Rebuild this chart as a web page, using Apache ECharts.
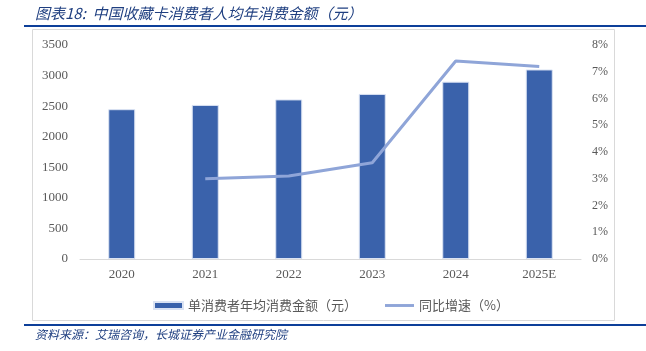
<!DOCTYPE html>
<html>
<head>
<meta charset="utf-8">
<script src="https://cdn.jsdelivr.net/npm/echarts@6/dist/echarts.min.js"></script>
<style>
  html, body { margin: 0; padding: 0; background: #fff; }
  #mainChart { width: 646px; height: 351px; }
</style>
</head>
<body>
<div id="mainChart"></div>
<script>
var years = ["2020", "2021", "2022", "2023", "2024", "2025E"];
var spendPerPerson = [2450, 2520, 2610, 2700, 2900, 3100];
var yoyGrowth = [null, 3.0, 3.1, 3.6, 7.4, 7.2];
var leftTicks = { min: 0, max: 3500, interval: 500 };
var rightTicks = { min: 0, max: 8, interval: 1 };

var chart = echarts.init(document.getElementById("mainChart"));
var labelColor = "#595959";
var serif = "'Liberation Serif', 'DejaVu Serif', serif";

var option = {
  animation: false,
  graphic: [
    // 标题下的蓝线
    { type: "rect", shape: { x: 24, y: 25, width: 622, height: 2 }, style: { fill: "#0d3f99" } },
    // 灰色边框
    { type: "rect", shape: { x: 32.5, y: 29.5, width: 582, height: 291 }, style: { fill: "none", stroke: "#d9d9d9", lineWidth: 1 } },
    // 底部蓝线
    { type: "rect", shape: { x: 24, y: 324, width: 622, height: 2 }, style: { fill: "#0d3f99" } },
    {
      type: "text", left: 35, top: 6,
      style: {
        text: "图表18:  中国收藏卡消费者人均年消费金额（元）",
        fill: "#1f3f80", font: "italic 15px 'Noto Sans CJK SC'"
      }
    },
    {
      type: "text", left: 35, top: 328,
      style: {
        text: "资料来源：艾瑞咨询，长城证券产业金融研究院",
        fill: "#1f3f80", font: "italic 12px 'Noto Sans CJK SC'"
      }
    }
  ],
  grid: { left: 80, right: 65, top: 45, bottom: 92 },
  legend: {
    left: 148, top: 294,
    itemGap: 28,
    itemWidth: 29, itemHeight: 7,
    textStyle: { color: labelColor, fontSize: 13, fontFamily: "'Noto Sans CJK SC'" },
    data: [
      { name: "单消费者年均消费金额（元）", icon: "rect" },
      // 细线图例：上下留空，只画中间一条
      { name: "同比增速（%）", icon: "path://M0,0M0,2H30V5H0ZM30,7" }
    ]
  },
  xAxis: {
    type: "category",
    data: years,
    axisLine: { lineStyle: { color: "#d9d9d9" } },
    axisTick: { show: false },
    axisLabel: { color: labelColor, fontSize: 13, fontFamily: serif, margin: 9 }
  },
  yAxis: [
    {
      type: "value",
      min: leftTicks.min, max: leftTicks.max, interval: leftTicks.interval,
      axisLine: { show: false },
      axisTick: { show: false },
      splitLine: { show: false },
      axisLabel: { color: labelColor, fontSize: 13, fontFamily: serif, margin: 12, formatter: function (v) { return String(v); } }
    },
    {
      type: "value",
      min: rightTicks.min, max: rightTicks.max, interval: rightTicks.interval,
      axisLine: { show: false },
      axisTick: { show: false },
      splitLine: { show: false },
      axisLabel: { color: labelColor, fontSize: 12, fontFamily: serif, margin: 11, formatter: "{value}%" }
    }
  ],
  series: [
    {
      name: "单消费者年均消费金额（元）",
      type: "bar",
      barWidth: 27,
      itemStyle: { color: "#3a62ab", borderColor: "#dbe3f3", borderWidth: 1 },
      data: spendPerPerson
    },
    {
      name: "同比增速（%）",
      type: "line",
      yAxisIndex: 1,
      symbol: "none",
      lineStyle: { color: "#8fa5d8", width: 3 },
      itemStyle: { color: "#8fa5d8" },
      data: yoyGrowth
    }
  ]
};
chart.setOption(option);
</script>
</body>
</html>
